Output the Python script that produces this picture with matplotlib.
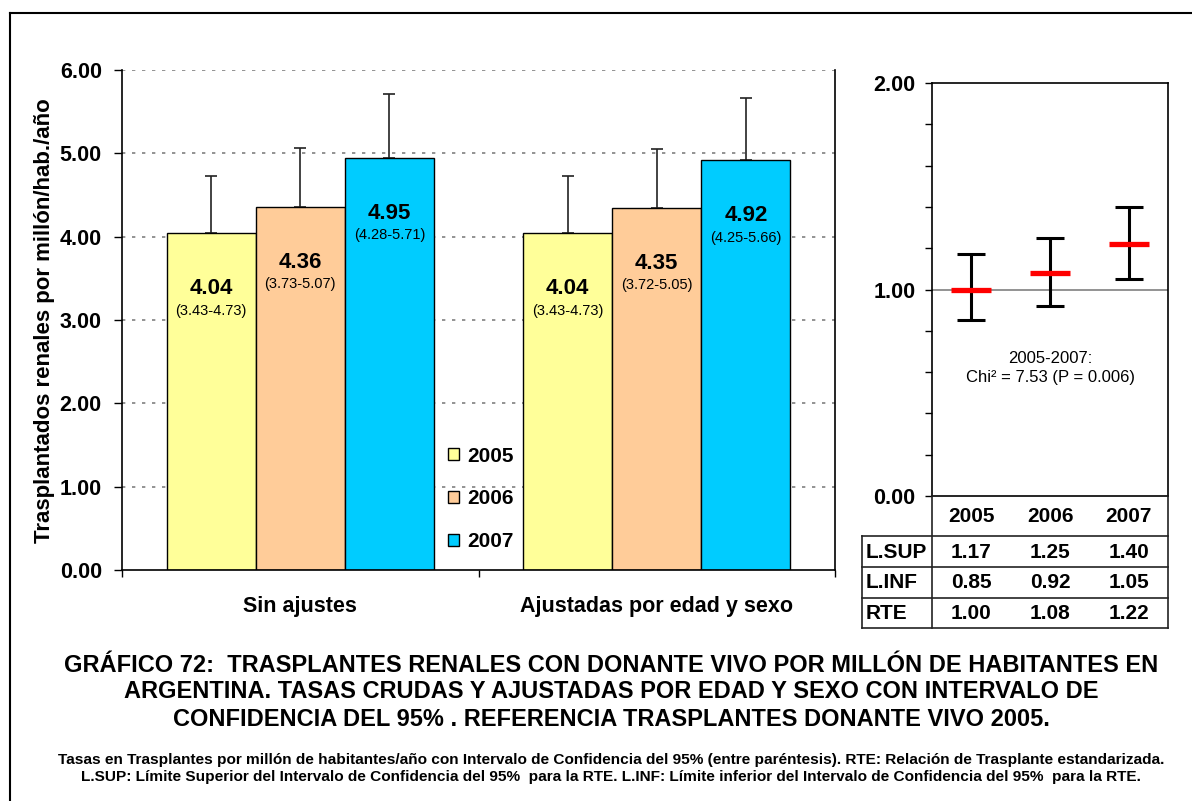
import matplotlib
matplotlib.use('Agg')
import matplotlib.pyplot as plt
import numpy as np
from matplotlib.lines import Line2D

# ---------------- data ----------------
groups = ['Sin ajustes', 'Ajustadas por edad y sexo']
years = ['2005', '2006', '2007']
rates_2005 = [4.04, 4.04]
rates_2006 = [4.36, 4.35]
rates_2007 = [4.95, 4.92]
low_2005 = [3.43, 3.43]
low_2006 = [3.73, 3.72]
low_2007 = [4.28, 4.25]
high_2005 = [4.73, 4.73]
high_2006 = [5.07, 5.05]
high_2007 = [5.71, 5.66]
bar_colors = ['#FFFF99', '#FFCC99', '#00CCFF']
y_ticks_left = [0, 1, 2, 3, 4, 5, 6]

rte = [1.00, 1.08, 1.22]
l_sup = [1.17, 1.25, 1.40]
l_inf = [0.85, 0.92, 1.05]
row_labels = ['L.SUP', 'L.INF', 'RTE']

title_lines = [
    'GRÁFICO 72:  TRASPLANTES RENALES CON DONANTE VIVO POR MILLÓN DE HABITANTES EN',
    'ARGENTINA. TASAS CRUDAS Y AJUSTADAS POR EDAD Y SEXO CON INTERVALO DE',
    'CONFIDENCIA DEL 95% . REFERENCIA TRASPLANTES DONANTE VIVO 2005.',
]
note_lines = [
    'Tasas en Trasplantes por millón de habitantes/año con Intervalo de Confidencia del 95% (entre paréntesis). RTE: Relación de Trasplante estandarizada.',
    'L.SUP: Límite Superior del Intervalo de Confidencia del 95%  para la RTE. L.INF: Límite inferior del Intervalo de Confidencia del 95%  para la RTE.',
]
chi_text = '2005-2007:\nChi² = 7.53 (P = 0.006)'

rates = [rates_2005, rates_2006, rates_2007]
lows = [low_2005, low_2006, low_2007]
highs = [high_2005, high_2006, high_2007]

plt.rcParams['font.family'] = ['Liberation Sans', 'DejaVu Sans']

W, H = 1192, 801
fig = plt.figure(figsize=(W / 100, H / 100), dpi=100)

def fx(px):
    return px / W

def fy(py):
    return 1 - py / H

# outer frame
fig.add_artist(Line2D([fx(9.5), fx(9.5)], [fy(13), 0], transform=fig.transFigure, color='black', lw=1.5))
fig.add_artist(Line2D([fx(9.5), 1], [fy(13), fy(13)], transform=fig.transFigure, color='black', lw=1.5))

# ---------------- left panel ----------------
ax = fig.add_axes([fx(122), fy(570), fx(835) - fx(122), fy(70) - fy(570)])
x = np.arange(len(groups))
bw = 0.25
for t in y_ticks_left[1:]:
    ax.axhline(t, linestyle=(0, (2, 4)), color='#808080', linewidth=1.2, zorder=0)
for i, yr in enumerate(years):
    xi = x + (i - 1) * bw
    vals = np.array(rates[i])
    up = np.array(highs[i]) - vals
    ax.bar(xi, vals, bw, color=bar_colors[i], edgecolor='black', linewidth=1.0, zorder=3, label=yr)
    ax.errorbar(xi, vals, yerr=[np.zeros_like(vals), up], fmt='none', ecolor='#222222',
                elinewidth=1.2, capsize=4, capthick=1.2, zorder=2)
    for xx, v, lo, hi in zip(xi, vals, lows[i], highs[i]):
        ax.annotate(f'{v:.2f}', xy=(xx, v), xytext=(0, -40), textcoords='offset points',
                    ha='center', va='center', fontsize=16, fontweight='bold', zorder=5)
        ax.annotate(f'({lo:.2f}-{hi:.2f})', xy=(xx, v), xytext=(0, -56), textcoords='offset points',
                    ha='center', va='center', fontsize=10.5, zorder=5)

ax.set_xlim(-0.5, len(groups) - 0.5)
ax.set_ylim(0, 6)
ax.set_yticks(y_ticks_left)
ax.set_yticklabels([f'{t:.2f}' for t in y_ticks_left], fontsize=15.5, fontweight='bold')
ax.tick_params(axis='y', direction='out', length=6, width=1, pad=8.5)
ax.set_xticks(np.arange(-0.5, len(groups), 1.0))
ax.set_xticklabels([])
ax.set_xticks(x, minor=True)
ax.set_xticklabels(groups, minor=True, fontsize=15.5, fontweight='bold')
ax.tick_params(axis='x', which='major', direction='out', length=5, width=1)
ax.tick_params(axis='x', which='minor', length=0, pad=19)
ax.spines['top'].set_visible(False)
for s in ['left', 'right', 'bottom']:
    ax.spines[s].set_linewidth(1.2)
    ax.spines[s].set_color('black')
    ax.spines[s].set_zorder(4)

leg = ax.legend(loc='center', bbox_to_anchor=(fx(481), fy(499)), bbox_transform=fig.transFigure,
                frameon=False, prop={'weight': 'bold', 'size': 15},
                handlelength=0.5, handleheight=0.5, handletextpad=0.4, labelspacing=1.15)

fig.text(fx(45), fy(321), 'Trasplantados renales por millón/hab./año', rotation=90,
         ha='center', va='center', fontsize=16, fontweight='bold')

# ---------------- right panel ----------------
ax2 = fig.add_axes([fx(932), fy(496), fx(1168) - fx(932), fy(83) - fy(496)])
xr = np.arange(len(years))
rte_a = np.array(rte)
ax2.axhline(1.0, color='#808080', lw=1.2, zorder=1)
ax2.errorbar(xr, rte_a, yerr=[rte_a - np.array(l_inf), np.array(l_sup) - rte_a], fmt='none',
             ecolor='black', elinewidth=2.2, capsize=10, capthick=2.2, zorder=2)
ax2.plot(xr, rte_a, linestyle='none', marker='_', markersize=29, markeredgewidth=3.8,
         color='#FF0000', zorder=3)
ax2.set_xlim(-0.5, len(years) - 0.5)
ax2.set_ylim(0, 2)
ax2.set_yticks([0, 1, 2])
ax2.set_yticklabels(['0.00', '1.00', '2.00'], fontsize=15.5, fontweight='bold')
ax2.set_yticks(np.arange(0, 2.01, 0.2), minor=True)
ax2.tick_params(axis='y', which='both', direction='out', length=5, width=1, pad=7)
ax2.set_xticks([])
for s in ax2.spines.values():
    s.set_linewidth(1.2)
    s.set_color('black')
ax2.text(1, 0.62, chi_text, ha='center', va='center', fontsize=12, linespacing=1.3)

# ---------------- table ----------------
tab = fig.add_axes([fx(862), fy(628), fx(1168) - fx(862), fy(496) - fy(628)])
tab.set_xlim(0, 306)
tab.set_ylim(132, 0)
tab.axis('off')
lc = '#222222'
for yy in [40, 71, 102, 132]:
    tab.plot([0, 306], [yy, yy], color=lc, lw=1.2, clip_on=False)
tab.plot([0, 0], [40, 132], color=lc, lw=1.2, clip_on=False)
tab.plot([70, 70], [0, 132], color=lc, lw=1.2, clip_on=False)
tab.plot([306, 306], [0, 132], color=lc, lw=1.2, clip_on=False)
colw = (306 - 70) / len(years)
for j, yr in enumerate(years):
    tab.text(70 + colw * (j + 0.5), 21, yr, ha='center', va='center', fontsize=15, fontweight='bold')
rows = [l_sup, l_inf, rte]
row_c = [56, 87, 117.5]
for r, (lab, vals) in enumerate(zip(row_labels, rows)):
    tab.text(4, row_c[r], lab, ha='left', va='center', fontsize=15, fontweight='bold')
    for j, v in enumerate(vals):
        tab.text(70 + colw * (j + 0.5), row_c[r], f'{v:.2f}', ha='center', va='center',
                 fontsize=15, fontweight='bold')

# ---------------- titles ----------------
for line, yy in zip(title_lines, [665, 692, 720]):
    fig.text(fx(611), fy(yy), line, ha='center', va='center', fontsize=17, fontweight='bold')
for line, yy in zip(note_lines, [760, 777]):
    fig.text(fx(611), fy(yy), line, ha='center', va='center', fontsize=11.1, fontweight='bold')

fig.savefig('out.png', dpi=100)
